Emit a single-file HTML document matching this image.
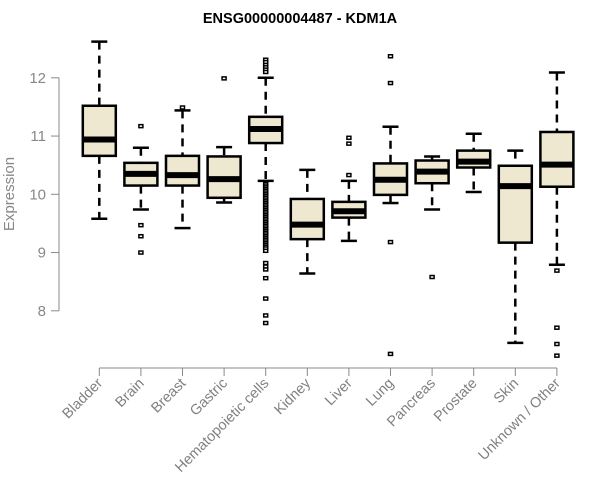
<!DOCTYPE html>
<html><head><meta charset="utf-8"><style>
body{margin:0;background:#fff}
svg{display:block;font-family:"Liberation Sans",Arial,sans-serif}
</style></head><body>
<svg id="chart" width="600" height="500"></svg>
<script>
const categories=["Bladder","Brain","Breast","Gastric","Hematopoietic cells","Kidney","Liver","Lung","Pancreas","Prostate","Skin","Unknown / Other"];
const whiskerLow=[9.58,9.74,9.42,9.86,10.23,8.64,9.20,9.85,9.74,10.04,7.45,8.79];
const q1=[10.66,10.15,10.15,9.94,10.88,9.23,9.60,9.99,10.19,10.46,9.17,10.13];
const medians=[10.94,10.35,10.33,10.26,11.12,9.48,9.71,10.25,10.39,10.56,10.14,10.51];
const q3=[11.52,10.54,10.66,10.65,11.33,9.92,9.87,10.53,10.58,10.75,10.49,11.07];
const whiskerHigh=[12.62,10.80,11.44,10.81,12.00,10.42,10.23,11.16,10.65,11.04,10.75,12.09];
const outliers=[[],[11.17,9.47,9.28,9.0],[11.49],[11.99],
[12.31,12.27,12.22,12.18,12.14,12.10,10.18,10.15,10.12,10.09,10.06,10.03,10.0,9.97,9.94,9.91,9.88,9.85,9.82,9.79,9.76,9.73,9.70,9.67,9.64,9.61,9.58,9.55,9.52,9.49,9.46,9.43,9.40,9.37,9.34,9.31,9.28,9.25,9.22,9.19,9.16,9.13,9.10,9.07,9.03,8.82,8.76,8.71,8.56,8.21,7.92,7.79],
[],[10.97,10.87,10.33],[12.37,11.91,9.18,7.26],[8.58],[],[],[8.69,7.71,7.43,7.23]];
const yTicks=[8,9,10,11,12];

const svg=document.getElementById('chart');
const NS='http://www.w3.org/2000/svg';
const y=v=>194.3-(v-10)*58.25;
const x=i=>99.3+i*41.6;
function mk(t,a,p){const e=document.createElementNS(NS,t);for(const k in a)e.setAttribute(k,a[k]);(p||svg).appendChild(e);return e;}

let t=mk('text',{x:300,y:23,'text-anchor':'middle','font-size':14.5,'font-weight':'bold',fill:'#000'});
t.textContent='ENSG00000004487 - KDM1A';


t=mk('text',{x:14,y:194,'text-anchor':'middle','font-size':15,fill:'#888',transform:'rotate(-90 14 194)'});
t.textContent='Expression';



const ya=mk('g',{});


mk('line',{x1:59,x2:59,y1:y(12),y2:y(8),stroke:'#888'},ya);
yTicks.forEach(v=>{
  mk('line',{x1:51,x2:59,y1:y(v),y2:y(v),stroke:'#888'},ya);
  const l=mk('text',{x:46,y:y(v)+5,'text-anchor':'end','font-size':15,fill:'#888'},ya);
  l.textContent=v;
  
  
});
const xa=mk('g',{});


mk('line',{x1:x(0),x2:x(11),y1:368,y2:368,stroke:'#888'},xa);
categories.forEach((c,i)=>{
  mk('line',{x1:x(i),x2:x(i),y1:368,y2:376,stroke:'#888'},xa);
  const px=x(i)+4,py=384;
  const l=mk('text',{x:px,y:py,'text-anchor':'end','font-size':14.5,fill:'#808080',transform:`rotate(-45 ${px} ${py})`},xa);
  l.textContent=c;
  
  
});

categories.forEach((c,i)=>{
  const g=mk('g',{});
  
  
  const cx=x(i),hw=16.5,cw=8;
  mk('line',{x1:cx,x2:cx,y1:y(whiskerHigh[i]),y2:y(q3[i]),stroke:'#000','stroke-width':2.5,'stroke-dasharray':'8,6'},g);
  mk('line',{x1:cx,x2:cx,y1:y(q1[i]),y2:y(whiskerLow[i]),stroke:'#000','stroke-width':2.5,'stroke-dasharray':'8,6'},g);
  mk('line',{x1:cx-cw,x2:cx+cw,y1:y(whiskerHigh[i]),y2:y(whiskerHigh[i]),stroke:'#000','stroke-width':2.5},g);
  mk('line',{x1:cx-cw,x2:cx+cw,y1:y(whiskerLow[i]),y2:y(whiskerLow[i]),stroke:'#000','stroke-width':2.5},g);
  mk('rect',{x:cx-hw,y:y(q3[i]),width:2*hw,height:y(q1[i])-y(q3[i]),fill:'#ede8cf',stroke:'#000','stroke-width':2.5},g);
  mk('line',{x1:cx-hw,x2:cx+hw,y1:y(medians[i]),y2:y(medians[i]),stroke:'#000','stroke-width':6},g);
  outliers[i].forEach(v=>{
    mk('rect',{x:cx-2,y:y(v)-1.5,width:4,height:3,fill:'#fff',stroke:'#000','stroke-width':1.5},g);
  });
});
</script>
</body></html>
